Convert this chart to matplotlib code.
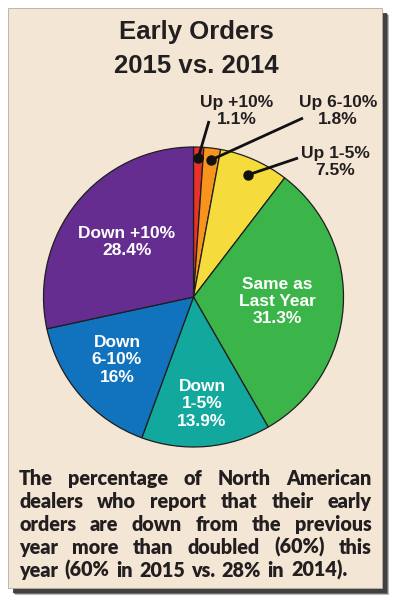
import matplotlib
matplotlib.use('Agg')
import matplotlib.pyplot as plt
from matplotlib.patches import Rectangle
import numpy as np

# ---------------- data ----------------
categories = ['Up +10%', 'Up 6-10%', 'Up 1-5%', 'Same as\nLast Year',
              'Down\n1-5%', 'Down\n6-10%', 'Down +10%']
values = [1.1, 1.8, 7.5, 31.3, 13.9, 16, 28.4]
value_labels = ['1.1%', '1.8%', '7.5%', '31.3%', '13.9%', '16%', '28.4%']
colors = ['#e8322a', '#f7941e', '#f5db3b', '#3bb54a', '#13a89e', '#1173be', '#662d91']
title_lines = ['Early Orders', '2015 vs. 2014']
caption_lines = [
    'The percentage of North American',
    'dealers who report that their early',
    'orders are down from the previous',
    'year more than doubled (60%) this',
    'year (60% in 2015 vs. 28% in 2014).',
]

# ---------------- layout ----------------
W, H = 395, 600
BG = '#f3e6d5'
LABEL_FONT = ['Liberation Sans', 'DejaVu Sans']
BODY_FONT = ['Lato', 'DejaVu Sans']

fig = plt.figure(figsize=(W / 100, H / 100), dpi=100, facecolor='white')
ax = fig.add_axes([0, 0, 1, 1])


def Y(py):
    return H - py


# panel shadow + panel
box_l, box_t, box_r, box_b = 8, 8, 382, 588
for off, a in [(7, 0.35), (6, 0.6), (5, 0.9)]:
    ax.add_patch(Rectangle((box_l + off, Y(box_b + off)), box_r - box_l, box_b - box_t,
                           facecolor='#3c3c3c', edgecolor='none', alpha=a, zorder=0))
ax.add_patch(Rectangle((box_l, Y(box_b)), box_r - box_l, box_b - box_t,
                       facecolor=BG, edgecolor='#b5aca2', linewidth=0.6, zorder=1))

# pie
cx, cy, R = 193.5, Y(297), 150
wedges, _ = ax.pie(values, colors=colors, startangle=90, counterclock=False,
                   center=(cx, cy), radius=R, frame=True,
                   wedgeprops=dict(edgecolor='#1e1e1e', linewidth=0.9, zorder=2))
for w in wedges:
    w.set_zorder(2)

ax.set_xlim(0, W)
ax.set_ylim(0, H)
ax.set_aspect('equal')
ax.axis('off')

# title
for txt, base in zip(title_lines, [39, 73]):
    ax.text(196, Y(base), txt, ha='center', va='baseline', fontsize=18.5,
            fontweight='bold', family=LABEL_FONT, color='#231f20', zorder=3)

# inside labels (white)
inside = {3: (277, 301.5), 4: (202, 404), 5: (117, 360), 6: (127, 242)}
for i, (px, py) in inside.items():
    ax.text(px, Y(py), categories[i] + '\n' + value_labels[i], ha='center', va='center',
            fontsize=12.5, fontweight='bold', family=LABEL_FONT, color='white',
            linespacing=1.2, zorder=3)

# outside labels with leader lines
outside = {0: (237, 111), 1: (338, 111), 2: (335, 162)}
line_start = {0: (209, 121), 1: (303, 118), 2: (298, 158)}
dot_frac = {0: 0.93, 1: 0.92, 2: 0.89}
cum = np.concatenate([[0], np.cumsum(values)])
for i, (px, py) in outside.items():
    ax.text(px, Y(py), categories[i] + '\n' + value_labels[i], ha='center', va='center',
            fontsize=12.5, fontweight='bold', family=LABEL_FONT, color='#231f20',
            linespacing=1.15, zorder=3)
    ang = np.deg2rad(90 - (cum[i] + values[i] / 2) * 3.6)
    dx = cx + dot_frac[i] * R * np.cos(ang)
    dy = cy + dot_frac[i] * R * np.sin(ang)
    sx, sy = line_start[i]
    ax.plot([sx, dx], [Y(sy), dy], color='#111111', lw=2.0, zorder=4,
            solid_capstyle='butt')
    ax.plot([dx], [dy], 'o', color='#111111', ms=6.5, zorder=5)

# caption (justified)
renderer = fig.canvas.get_renderer()
left, right = 19, 372
baselines = [485, 508, 531, 554, 577]
for li, (line, base) in enumerate(zip(caption_lines, baselines)):
    words = line.split()
    texts = [ax.text(0, Y(base), w, ha='left', va='baseline', fontsize=14.2,
                     fontweight='heavy', family=BODY_FONT, color='#231f20', zorder=3)
             for w in words]
    widths = [t.get_window_extent(renderer).width for t in texts]
    if li < len(caption_lines) - 1:
        gap = (right - left - sum(widths)) / (len(words) - 1)
    else:
        gap = 6.5
    x = left
    for t, wd in zip(texts, widths):
        t.set_x(x)
        x += wd + gap

fig.savefig('out.png', dpi=100, facecolor='white')
